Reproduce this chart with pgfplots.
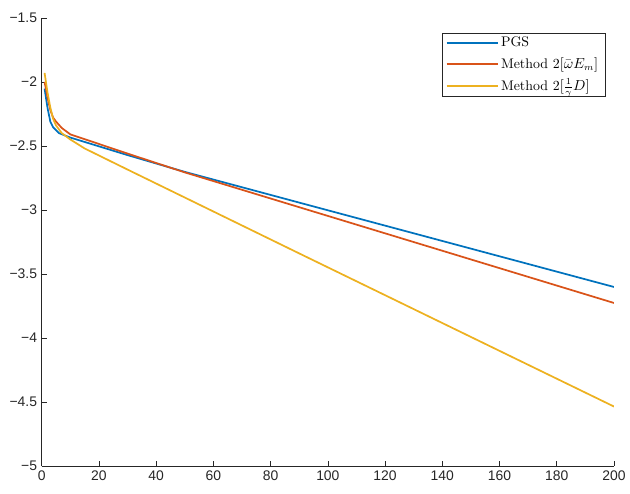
\documentclass[border=0pt]{standalone}
\usepackage{pgfplots}
\pgfplotsset{compat=1.18}
\usepackage{fontspec}
\newfontfamily\ticksf{Liberation Sans}
\definecolor{mblue}{rgb}{0,0.447,0.741}
\definecolor{mred}{rgb}{0.850,0.325,0.098}
\definecolor{myel}{rgb}{0.929,0.694,0.125}
\definecolor{axgray}{rgb}{0.15,0.15,0.15}
\begin{document}
\begin{tikzpicture}
\begin{axis}[
  scale only axis,
  width=432pt, height=338.25pt,
  xmin=0, xmax=200, ymin=-5, ymax=-1.5,
  axis x line*=bottom, axis y line*=left,
  axis line style={axgray, line width=0.5pt, -},
  tick align=inside,
  major tick length=4pt,
  tick style={axgray, line width=0.5pt},
  xtick={0,20,...,200},
  xticklabels={0,20,40,60,80,100,120,140,160,180,200},
  ytick={-5,-4.5,-4,-3.5,-3,-2.5,-2,-1.5},
  yticklabels={−5,−4.5,−4,−3.5,−3,−2.5,−2,−1.5},
  ticklabel style={font=\ticksf\fontsize{10.5}{12}\selectfont, text=axgray},
  legend style={at={(1,1)}, anchor=north east, xshift=-6.75pt, yshift=-11.25pt,
    draw=axgray, font=\fontsize{10.5}{12}\selectfont,
    row sep=2.5pt, inner xsep=3pt, inner ysep=1pt},
  legend cell align=left,
  legend image code/.code={\draw[#1] (0cm,0cm) -- (1.35cm,0cm);},
]
\addplot[color=mblue, line width=1.3pt] coordinates {
(1,-2.053) (2,-2.20) (3,-2.31) (4,-2.355) (6,-2.40) (10,-2.435) (30,-2.572) (50,-2.703) (100,-3.003) (200,-3.602)};
\addlegendentry{PGS}
\addplot[color=mred, line width=1.3pt] coordinates {
(1,-2.0) (2,-2.12) (3,-2.22) (4,-2.28) (5,-2.31) (7,-2.36) (10,-2.41) (30,-2.56) (50,-2.707) (100,-3.047) (200,-3.727)};
\addlegendentry{Method 2$[\bar{\omega}E_m]$}
\addplot[color=myel, line width=1.3pt] coordinates {
(1,-1.93) (2,-2.08) (3,-2.20) (4,-2.29) (5,-2.34) (7,-2.40) (10,-2.45) (15,-2.52) (30,-2.685) (90,-3.34) (200,-4.536)};
\addlegendentry{Method 2$[\frac{1}{\gamma}D]$}
\end{axis}
\path (current axis.south west) ++(-31.5pt,-21pt) (current axis.north east) ++(9pt,13.5pt);
\end{tikzpicture}
\end{document}
